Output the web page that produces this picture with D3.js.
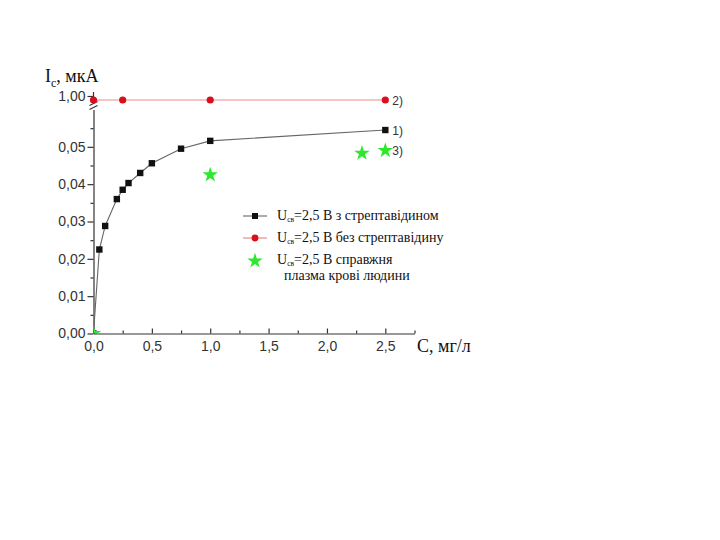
<!DOCTYPE html>
<html><head><meta charset="utf-8">
<script src="https://cdn.jsdelivr.net/npm/d3@7"></script>
<style>body{margin:0;background:#fff}</style>
</head><body>
<svg id="c" width="720" height="540"></svg>
<script>
// Data
const xTicks = [0, 0.5, 1.0, 1.5, 2.0, 2.5];
const yTicksLow = [0, 0.01, 0.02, 0.03, 0.04, 0.05];
const yTicksHigh = [1.00];
const s1x = [0, 0.05, 0.1, 0.2, 0.25, 0.3, 0.4, 0.5, 0.75, 1.0, 2.5];
const s1y = [0, 0.0225, 0.0288, 0.036, 0.0385, 0.0403, 0.043, 0.0456, 0.0495, 0.0516, 0.0545];
const s2x = [0, 0.25, 1.0, 2.5];
const s2y = [0.99, 0.99, 0.99, 0.99];
const s3x = [0, 1.0, 2.3, 2.5];
const s3y = [0, 0.0425, 0.0483, 0.049];
const legendLabels = ["=2,5 В з стрептавідином", "=2,5 В без стрептавідину", "=2,5 В справжня"];
const legendLine2 = "плазма крові людини";
const seriesTags = ["1)", "2)", "3)"];

const svg = d3.select("#c");
const fmt = d => d3.format(".2f")(d).replace(".", ",");
const fmtX = d => d3.format(".1f")(d).replace(".", ",");

const x = d3.scaleLinear().domain([0, 2.75]).range([93.5, 414.5]);
const yL = d3.scaleLinear().domain([0, 0.06]).range([333.5, 109.5]);
const yH = d3.scaleLinear().domain([0.975, 1.01]).range([106, 92]);

const axisColor = "#333";

// clip for marks at origin
svg.append("clipPath").attr("id", "pc").append("rect")
  .attr("x", x(0)).attr("y", 80).attr("width", 340).attr("height", yL(0) - 80);

// X axis
svg.append("g").attr("transform", `translate(0,${yL(0)})`)
  .call(d3.axisBottom(x).tickValues(xTicks).tickFormat(fmtX).tickSizeInner(-5).tickSizeOuter(0).tickPadding(8));
svg.append("g").attr("transform", `translate(0,${yL(0)})`)
  .call(d3.axisBottom(x).tickValues([0.25, 0.75, 1.25, 1.75, 2.25, 2.75]).tickFormat("").tickSizeInner(-3).tickSizeOuter(0))
  .select(".domain").remove();

// Y axis lower
svg.append("g").attr("transform", `translate(${x(0)},0)`)
  .call(d3.axisLeft(yL).tickValues(yTicksLow).tickFormat(fmt).tickSizeInner(6).tickSizeOuter(0).tickPadding(2));
svg.append("g").attr("transform", `translate(${x(0)},0)`)
  .call(d3.axisLeft(yL).tickValues([0.005, 0.015, 0.025, 0.035, 0.045, 0.055]).tickFormat("").tickSizeInner(3).tickSizeOuter(0))
  .select(".domain").remove();

// Y axis upper
const gu = svg.append("g").attr("transform", `translate(${x(0)},0)`)
  .call(d3.axisLeft(yH).tickValues(yTicksHigh).tickFormat(fmt).tickSizeInner(6).tickSizeOuter(0).tickPadding(2));
gu.select(".domain").remove();
svg.append("line").attr("x1", x(0)).attr("x2", x(0)).attr("y1", 92).attr("y2", 102.5)
  .attr("stroke", axisColor).attr("stroke-width", 1.2);
// break marks
[103.5, 107.5].forEach(yy => {
  svg.append("line").attr("x1", x(0) - 4).attr("x2", x(0) + 4).attr("y1", yy + 2).attr("y2", yy - 2)
    .attr("stroke", axisColor).attr("stroke-width", 1.2);
});

svg.selectAll(".domain, .tick line").attr("stroke", axisColor).attr("stroke-width", 1.2);
svg.selectAll(".tick text").attr("font-family", "Liberation Sans, Arial, sans-serif").attr("font-size", 14).attr("fill", "#333");

// Series 2 (red)
const d2 = s2x.map((v, i) => [v, s2y[i]]);
svg.append("path").datum(d2)
  .attr("d", d3.line().x(d => x(d[0])).y(d => yH(d[1])))
  .attr("fill", "none").attr("stroke", "#ee8a8a").attr("stroke-width", 1.2);
svg.selectAll(".s2").data(d2).join("circle")
  .attr("cx", d => x(d[0])).attr("cy", d => yH(d[1])).attr("r", 3.6).attr("fill", "#d8101c");

// Series 1 (black)
const d1 = s1x.map((v, i) => [v, s1y[i]]);
svg.append("path").datum(d1)
  .attr("d", d3.line().x(d => x(d[0])).y(d => yL(d[1])))
  .attr("fill", "none").attr("stroke", "#666").attr("stroke-width", 1.1);
svg.append("g").attr("clip-path", "url(#pc)").selectAll("rect").data(d1).join("rect")
  .attr("x", d => x(d[0]) - 3.2).attr("y", d => yL(d[1]) - 3.2).attr("width", 6.4).attr("height", 6.4).attr("fill", "#111");

// Series 3 (green stars)
const d3s = s3x.map((v, i) => [v, s3y[i]]);
const star = d3.symbol().type(d3.symbolStar).size(75);
svg.append("g").attr("clip-path", "url(#pc)").selectAll("path").data(d3s).join("path")
  .attr("d", star).attr("transform", d => `translate(${x(d[0])},${yL(d[1])})`).attr("fill", "#2ee82e");

// series tags
const tagPos = [[2.5, yL(s1y[s1y.length - 1])], [2.5, yH(s2y[s2y.length - 1])], [2.5, yL(s3y[s3y.length - 1])]];
tagPos.forEach((p, i) => {
  svg.append("text").attr("x", x(p[0]) + 7).attr("y", p[1] + 4.5).text(seriesTags[i])
    .attr("font-family", "Liberation Sans, Arial, sans-serif").attr("font-size", 12).attr("fill", "#333");
});

// Axis titles
const t1 = svg.append("text").attr("x", 45).attr("y", 82)
  .attr("font-family", "Liberation Serif, Times New Roman, serif").attr("font-size", 18).attr("fill", "#111");
t1.append("tspan").text("I");
t1.append("tspan").attr("font-size", 12).attr("dy", 5).text("c");
t1.append("tspan").attr("dy", -5).text(", мкА");

svg.append("text").attr("x", 417).attr("y", 352).text("С, мг/л")
  .attr("font-family", "Liberation Serif, Times New Roman, serif").attr("font-size", 18).attr("fill", "#111");

// Legend
const lgY = [216, 238, 261];
const serif = "Liberation Serif, Times New Roman, serif";
svg.append("line").attr("x1", 243).attr("x2", 267).attr("y1", lgY[0]).attr("y2", lgY[0]).attr("stroke", "#666").attr("stroke-width", 1.1);
svg.append("rect").attr("x", 255 - 3).attr("y", lgY[0] - 3).attr("width", 6).attr("height", 6).attr("fill", "#111");
svg.append("line").attr("x1", 243).attr("x2", 267).attr("y1", lgY[1]).attr("y2", lgY[1]).attr("stroke", "#ee8a8a").attr("stroke-width", 1.2);
svg.append("circle").attr("cx", 255).attr("cy", lgY[1]).attr("r", 3.4).attr("fill", "#d8101c");
svg.append("path").attr("d", star).attr("transform", `translate(255,${lgY[2]})`).attr("fill", "#2ee82e");

const baseY = [220, 242, 264];
legendLabels.forEach((lab, i) => {
  const t = svg.append("text").attr("x", 277).attr("y", baseY[i])
    .attr("font-family", serif).attr("font-size", 14).attr("fill", "#111");
  t.append("tspan").text("U");
  t.append("tspan").attr("font-size", 7.5).attr("dy", 2).text("св");
  t.append("tspan").attr("dy", -2).text(lab);
});
svg.append("text").attr("x", 284).attr("y", 280).text(legendLine2)
  .attr("font-family", serif).attr("font-size", 14).attr("fill", "#111");
</script>
</body></html>
